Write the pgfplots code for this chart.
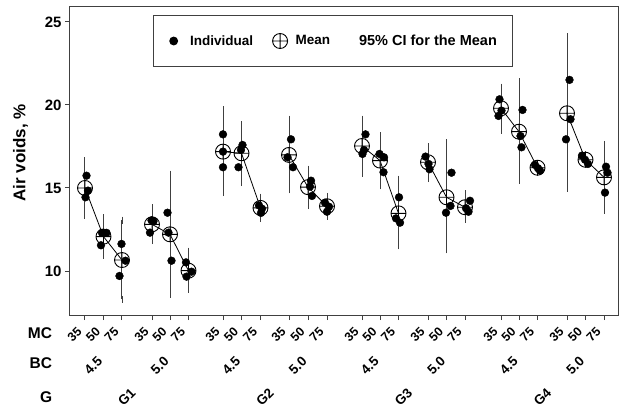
\documentclass[border=0pt]{standalone}
\usepackage{fontspec}
\setmainfont{Liberation Sans}
\usepackage{pgfplots}
\pgfplotsset{compat=1.18}
\usepackage{pgfplotstable}
\usetikzlibrary{plotmarks}
\newcommand{\fs}[1]{\fontsize{#1}{#1}\selectfont\bfseries}
\newcommand{\gap}[1]{\rule{#1}{0pt}}

% means and 95% CI (x = plot position of each MC level)
\pgfplotstableread{
x     m     lo    hi
85    15.00 13.37 16.64
103.5 12.07 10.96 13.21
122   10.66  8.29 13.07
nan   nan   nan   nan
152   12.81 11.83 13.81
170   12.21  8.60 15.84
188.5 10.02  8.90 11.20
nan   nan   nan   nan
223   17.19 14.72 19.70
241.5 17.09 15.32 18.80
260.5 13.80 13.15 14.45
nan   nan   nan   nan
289   16.99 14.88 19.14
308   15.05 13.94 16.13
327   13.90 13.31 14.50
nan   nan   nan   nan
362   17.53 15.89 19.14
380   16.65 15.12 18.15
398.5 13.47 11.51 15.54
nan   nan   nan   nan
428   16.55 15.56 17.49
446.5 14.44 11.27 17.73
465   13.84 13.11 14.64
nan   nan   nan   nan
501   19.80 18.49 21.07
519   18.39 15.48 21.40
537.5 16.22 15.95 16.50
nan   nan   nan   nan
567   19.50 14.98 24.11
585.5 16.70 16.40 17.00
604   15.64 13.67 17.63
}\means

% individual air void values
\pgfplotstableread{
x     y
86.5  15.74
88    14.84
85.5  14.44
102   12.30
106.5 12.30
101   11.55
121.5 11.63
125.5 10.62
119.5  9.70
151.5 13.05
153.5 13.00
150   12.31
167.5 13.51
168.5 12.31
171.5 10.62
186   10.52
191.5  9.96
186.5  9.66
223   18.23
223   17.19
223   16.25
242.5 17.59
241   17.29
238.5 16.25
259   13.95
262   13.75
261   13.50
291   17.93
287.5 16.85
293   16.25
311   15.44
310   15.08
312   14.52
325   14.11
329   13.87
327   13.57
365.5 18.23
364   17.29
362.5 17.05
379.5 17.05
384   16.85
383.5 15.95
399   14.44
396   13.17
400   12.91
425.5 16.89
428.5 16.45
429.5 16.13
451.5 15.92
450.5 13.92
446   13.51
470   14.23
466   13.78
468.5 13.57
499.5 20.34
501.5 19.66
498.5 19.34
522.5 19.70
520.5 18.13
521.5 17.45
535   16.39
538   16.19
540   16.04
569.5 21.51
570.5 19.14
566   17.93
582   16.95
585   16.70
588   16.45
606   16.28
607.5 15.92
605   14.72
}\indiv

\begin{document}
\begin{tikzpicture}
\useasboundingbox (-70bp,-96bp) rectangle (555bp,315bp);
\begin{axis}[
  scale only axis, width=548bp, height=308bp,
  xmin=70, xmax=618, ymin=7.35, ymax=25.9,
  clip=false,
  tick pos=left, tick align=outside, major tick length=5bp,
  axis line style={black!75, line width=1bp},
  every tick/.style={black!75, line width=1bp},
  ytick={10,15,20,25},
  yticklabel style={font=\fs{15bp}},
  /pgf/number format/assume math mode=true,
  xtick={85,103.5,122,152,170,188.5,223,241.5,260.5,289,308,327,362,380,398.5,428,446.5,465,501,519,537.5,567,585.5,604},
  xticklabels={35,50,75,35,50,75,35,50,75,35,50,75,35,50,75,35,50,75,35,50,75,35,50,75},
  xticklabel style={xshift=-3bp, yshift=-7bp, rotate=45, anchor=east, font=\fs{12.5bp}},
  legend columns=3,
  legend image code/.code={\draw[#1] plot coordinates {(0bp,0bp)};},
  legend style={at={(rel axis cs:0.152,0.974)}, anchor=north west,
    draw=black!75, line width=1bp, inner xsep=16bp, inner ysep=18bp,
    nodes={inner sep=0pt}, font=\fs{13.5bp}},
]
\addlegendimage{only marks, mark=*, mark size=3.9bp, black}
\addlegendentry{\gap{12.5bp}Individual\gap{19.5bp}}
\addlegendimage{only marks, mark=oplus, mark size=7.5bp, black, mark options={line width=0.9bp}}
\addlegendentry{\gap{8bp}Mean\gap{29bp}}
\addlegendimage{empty legend}
\addlegendentry{\fs{14.5bp}95\% CI for the Mean}

\addplot[black, line width=0.8bp, mark=oplus, mark size=7.5bp,
  mark options={line width=0.9bp, solid},
  unbounded coords=jump, forget plot,
  error bars/.cd, y dir=both, y explicit,
  error mark=-, error mark options={mark size=3.5bp, line width=1bp, black!75},
  error bar style={line width=1bp, black!75}]
  table[x=x, y=m,
    y error plus expr=\thisrow{hi}-\thisrow{m},
    y error minus expr=\thisrow{m}-\thisrow{lo}] {\means};

\addplot[only marks, mark=*, mark size=3.9bp, black, forget plot]
  table[x=x, y=y] {\indiv};

% row titles and grouping labels below the axis
\node[anchor=east, inner sep=0pt, font=\fs{15.5bp}] at (axis cs:52.3,6.28) {MC};
\node[anchor=east, inner sep=0pt, font=\fs{15.5bp}] at (axis cs:52.3,4.44) {BC};
\node[anchor=east, inner sep=0pt, font=\fs{15.5bp}] at (axis cs:52.3,2.39) {G};
\node[rotate=45, anchor=east, inner sep=0pt, font=\fs{13.5bp}] at (axis cs:100,4.72) {4.5};
\node[rotate=45, anchor=east, inner sep=0pt, font=\fs{13.5bp}] at (axis cs:166.5,4.72) {5.0};
\node[rotate=45, anchor=east, inner sep=0pt, font=\fs{13.5bp}] at (axis cs:238,4.72) {4.5};
\node[rotate=45, anchor=east, inner sep=0pt, font=\fs{13.5bp}] at (axis cs:304.5,4.72) {5.0};
\node[rotate=45, anchor=east, inner sep=0pt, font=\fs{13.5bp}] at (axis cs:376.5,4.72) {4.5};
\node[rotate=45, anchor=east, inner sep=0pt, font=\fs{13.5bp}] at (axis cs:443,4.72) {5.0};
\node[rotate=45, anchor=east, inner sep=0pt, font=\fs{13.5bp}] at (axis cs:515.5,4.72) {4.5};
\node[rotate=45, anchor=east, inner sep=0pt, font=\fs{13.5bp}] at (axis cs:582,4.72) {5.0};
\node[rotate=45, anchor=east, inner sep=0pt, font=\fs{13.5bp}] at (axis cs:133.25,2.8) {G1};
\node[rotate=45, anchor=east, inner sep=0pt, font=\fs{13.5bp}] at (axis cs:271.5,2.8) {G2};
\node[rotate=45, anchor=east, inner sep=0pt, font=\fs{13.5bp}] at (axis cs:410,2.8) {G3};
\node[rotate=45, anchor=east, inner sep=0pt, font=\fs{13.5bp}] at (axis cs:549,2.8) {G4};
\node[rotate=90, anchor=center, inner sep=0pt, font=\fs{17bp}] at (axis cs:20.5,17.11) {Air voids, \%};
\end{axis}
\end{tikzpicture}
\end{document}
